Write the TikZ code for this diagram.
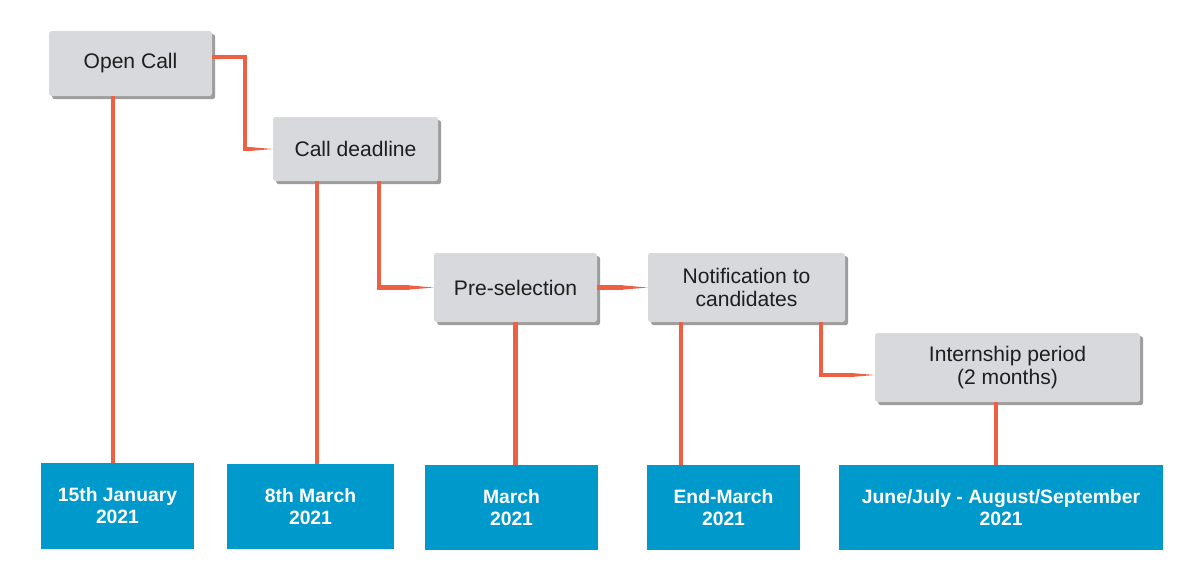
\documentclass[tikz,border=0pt]{standalone}
\usepackage{fontspec}
\setmainfont{Liberation Sans}
\usepackage{xcolor}
\usepackage{tikz}
\usetikzlibrary{arrows.meta, shadows}
\definecolor{phasegray}{RGB}{216, 217, 220}
\definecolor{dateblue}{RGB}{0, 153, 204}
\definecolor{linkred}{RGB}{238, 96, 68}
\definecolor{textdark}{RGB}{30, 30, 30}

\begin{document}
\begin{tikzpicture}[
  x=0.02cm, y=-0.02cm,
  phase/.style={fill=phasegray, rounded corners=1.5pt, align=center, text=textdark,
    font=\fontsize{12}{13}\selectfont, inner sep=0pt,
    drop shadow={shadow xshift=1.8pt, shadow yshift=-1.8pt, fill=black!70, opacity=0.55}},
  datebox/.style={fill=dateblue, align=center, text=white,
    font=\fontsize{11}{12.5}\selectfont\bfseries, inner sep=0pt},
  link/.style={draw=linkred, line width=2.4pt},
  tip/.style={-{Triangle[length=14pt, width=2.4pt, line width=0pt]}},
]
  \useasboundingbox (0,0) rectangle (1200,575);

  % Phases
  \node[phase, minimum width=163*0.02cm, minimum height=65*0.02cm] (opencall) at (130.5,63.5) {Open Call};
  \node[phase, minimum width=165*0.02cm, minimum height=64*0.02cm] (deadline) at (355.5,149) {Call deadline};
  \node[phase, minimum width=163*0.02cm, minimum height=69*0.02cm] (presel) at (515.5,287.5) {Pre-selection};
  \node[phase, minimum width=197*0.02cm, minimum height=69*0.02cm] (notif) at (746.5,287.5) {Notification to\\candidates};
  \node[phase, minimum width=265*0.02cm, minimum height=69*0.02cm] (intern) at (1007.5,367.5) {Internship period\\(2 months)};

  % Dates
  \node[datebox, minimum width=153*0.02cm, minimum height=86*0.02cm] (jan) at (117.5,506) {15th January\\2021};
  \node[datebox, minimum width=167*0.02cm, minimum height=85*0.02cm] (mareight) at (310.5,506.5) {8th March\\2021};
  \node[datebox, minimum width=173*0.02cm, minimum height=85*0.02cm] (mar) at (511.5,507.5) {March\\2021};
  \node[datebox, minimum width=153*0.02cm, minimum height=85*0.02cm] (endmar) at (723.5,507.5) {End-March\\2021};
  \node[datebox, minimum width=324*0.02cm, minimum height=85*0.02cm] (summer) at (1001,507.5) {June/July - August/September\\2021};

  % Phase to date
  \draw[link] ([xshift=-0.35cm]opencall.south) -- ([xshift=-0.35cm]opencall.south |- jan.north);
  \draw[link] ([xshift=-0.77cm]deadline.south) -- ([xshift=-0.77cm]deadline.south |- mareight.north);
  \draw[link] (presel.south) -- (presel.south |- mar.north);
  \draw[link] ([xshift=-1.31cm]notif.south) -- ([xshift=-1.31cm]notif.south |- endmar.north);
  \draw[link] ([xshift=-0.23cm]intern.south) -- ([xshift=-0.23cm]intern.south |- summer.north);

  % Phase to phase
  \draw[link, tip] ([yshift=0.13cm]opencall.east) -- ++(33,0) |- (deadline.west);
  \draw[link, tip] ([xshift=0.47cm]deadline.south) |- (presel.west);
  \draw[link, tip] (presel.east) -- (notif.west);
  \draw[link, tip] ([xshift=1.49cm]notif.south) |- ([yshift=-0.15cm]intern.west);

\end{tikzpicture}
\end{document}
